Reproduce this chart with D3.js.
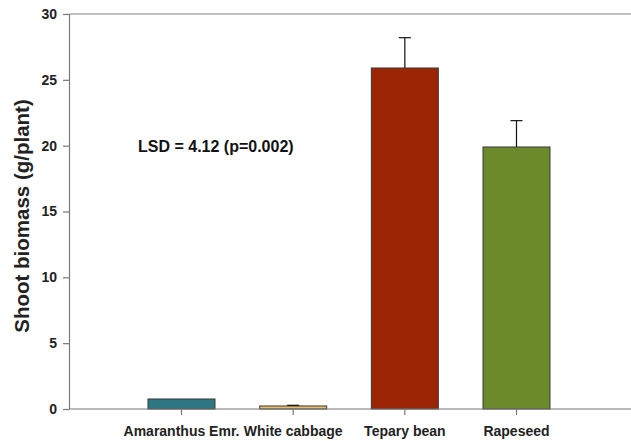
<!DOCTYPE html>
<html>
<head>
<meta charset="utf-8">
<script src="https://cdn.jsdelivr.net/npm/d3@7"></script>
<style>
  body { margin: 0; background: #fff; }
  svg { display: block; font-family: Arial, "Liberation Sans", sans-serif; }
</style>
</head>
<body>
<svg></svg>
<script>
width = 631;
height = 441;

// data
let crops = ["Amaranthus Emr.", "White cabbage", "Tepary bean", "Rapeseed"];
let biomass = [0.76, 0.23, 25.9, 19.9];
let errors = [0, 0.05, 2.3, 2.0];
let colors = ["#2d7683", "#e7bf6a", "#9c2506", "#6c8a2b"];
let yTicks = [0, 5, 10, 15, 20, 25, 30];

let svg = d3.select("svg").attr("width", width).attr("height", height);

let mLeft = 69, mTop = 14, mBottom = 409, mRight = 640;

let x = d3.scaleBand()
    .domain(crops)
    .range([148, 550])
    .paddingInner(0.4)
    .paddingOuter(0);

let y = d3.scaleLinear()
    .domain([0, 30])
    .range([mBottom, mTop]);

// top frame
svg.append("line")
    .attr("x1", mLeft).attr("x2", mRight)
    .attr("y1", mTop).attr("y2", mTop)
    .style("stroke", "#808080")
    .style("stroke-width", 1.2);

// bars
let bars = svg.append("g");
crops.forEach(function (c, i) {
    bars.append("rect")
        .attr("x", x(c))
        .attr("y", y(biomass[i]))
        .attr("width", x.bandwidth())
        .attr("height", y(0) - y(biomass[i]))
        .style("fill", colors[i])
        .style("stroke", "#3a3a3a")
        .style("stroke-width", 1);

    if (errors[i] > 0) {
        let cx = x(c) + x.bandwidth() / 2;
        bars.append("line")
            .attr("x1", cx).attr("x2", cx)
            .attr("y1", y(biomass[i])).attr("y2", y(biomass[i] + errors[i]))
            .style("stroke", "#111").style("stroke-width", 1.2);
        bars.append("line")
            .attr("x1", cx - 6).attr("x2", cx + 6)
            .attr("y1", y(biomass[i] + errors[i])).attr("y2", y(biomass[i] + errors[i]))
            .style("stroke", "#111").style("stroke-width", 1.2);
    }
});

// y axis
let yAxis = svg.append("g")
    .attr("transform", "translate(" + mLeft + ",0)")
    .call(d3.axisLeft(y).tickValues(yTicks).tickSize(6).tickPadding(6).tickSizeOuter(0));

// x axis
let xAxis = svg.append("g")
    .attr("transform", "translate(0," + mBottom + ")")
    .call(d3.axisBottom(x).tickSize(6).tickPadding(11).tickSizeOuter(0));

xAxis.select(".domain").attr("d", "M" + mLeft + ",0H" + mRight);

[xAxis, yAxis].forEach(function (a) {
    a.selectAll("path, line").style("stroke", "#777").style("stroke-width", 1.2);
    a.selectAll("text")
        .style("font-size", "14px")
        .style("font-weight", "bold")
        .style("fill", "#222");
});

// y title
svg.append("text")
    .attr("transform", "translate(29,216) rotate(-90)")
    .attr("text-anchor", "middle")
    .style("font-size", "20.5px")
    .style("font-weight", "bold")
    .style("fill", "#222")
    .text("Shoot biomass (g/plant)");

// LSD note
svg.append("text")
    .attr("x", 138)
    .attr("y", 152)
    .style("font-size", "16px")
    .style("font-weight", "bold")
    .style("fill", "#111")
    .text("LSD = 4.12 (p=0.002)");
</script>
</body>
</html>
